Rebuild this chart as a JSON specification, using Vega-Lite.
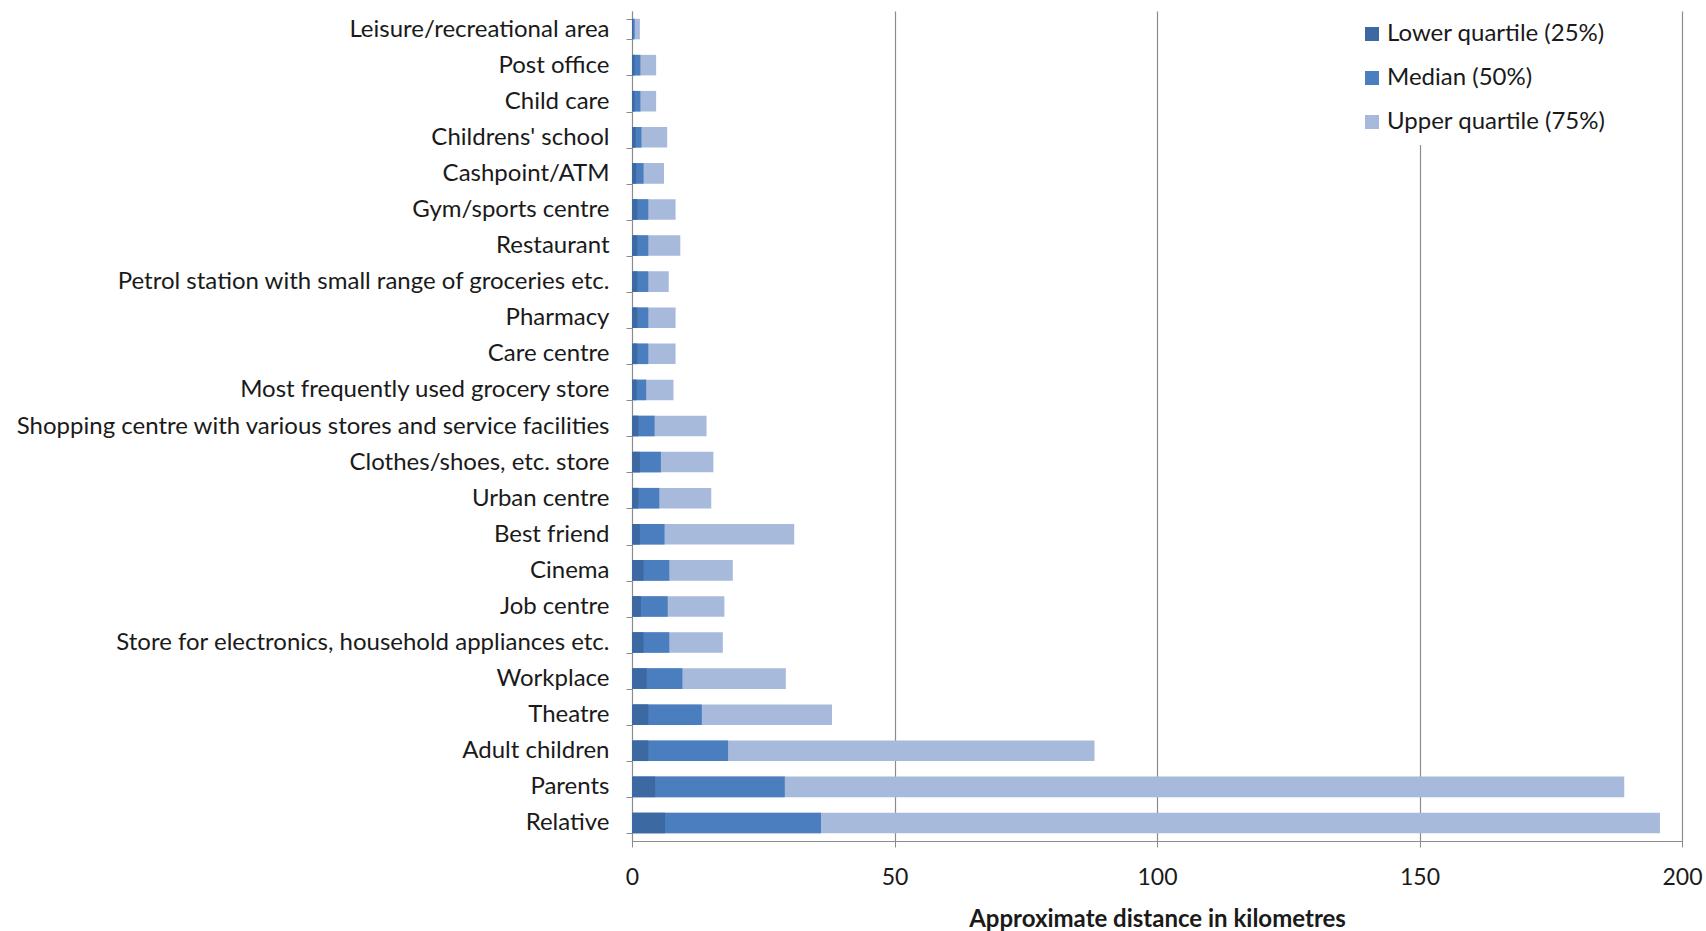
{
  "$schema": "https://vega.github.io/schema/vega-lite/v6.json",
  "autosize": "none",
  "width": 1050,
  "height": 830,
  "padding": {"left": 632, "top": 11, "right": 24, "bottom": 90},
  "background": "white",
  "config": {
    "font": "Lato",
    "view": {"stroke": null}
  },
  "data": {
    "values": [
      {"place": "Leisure/recreational area", "quartile": "Upper quartile (75%)", "km": 1.5},
      {"place": "Post office", "quartile": "Upper quartile (75%)", "km": 4.6},
      {"place": "Child care", "quartile": "Upper quartile (75%)", "km": 4.6},
      {"place": "Childrens' school", "quartile": "Upper quartile (75%)", "km": 6.7},
      {"place": "Cashpoint/ATM", "quartile": "Upper quartile (75%)", "km": 6.1},
      {"place": "Gym/sports centre", "quartile": "Upper quartile (75%)", "km": 8.3},
      {"place": "Restaurant", "quartile": "Upper quartile (75%)", "km": 9.2},
      {"place": "Petrol station with small range of groceries etc.", "quartile": "Upper quartile (75%)", "km": 7.0},
      {"place": "Pharmacy", "quartile": "Upper quartile (75%)", "km": 8.3},
      {"place": "Care centre", "quartile": "Upper quartile (75%)", "km": 8.3},
      {"place": "Most frequently used grocery store", "quartile": "Upper quartile (75%)", "km": 7.9},
      {"place": "Shopping centre with various stores and service facilities", "quartile": "Upper quartile (75%)", "km": 14.2},
      {"place": "Clothes/shoes, etc. store", "quartile": "Upper quartile (75%)", "km": 15.5},
      {"place": "Urban centre", "quartile": "Upper quartile (75%)", "km": 15.1},
      {"place": "Best friend", "quartile": "Upper quartile (75%)", "km": 30.9},
      {"place": "Cinema", "quartile": "Upper quartile (75%)", "km": 19.2},
      {"place": "Job centre", "quartile": "Upper quartile (75%)", "km": 17.6},
      {"place": "Store for electronics, household  appliances etc.", "quartile": "Upper quartile (75%)", "km": 17.3},
      {"place": "Workplace", "quartile": "Upper quartile (75%)", "km": 29.3},
      {"place": "Theatre", "quartile": "Upper quartile (75%)", "km": 38.1},
      {"place": "Adult children", "quartile": "Upper quartile (75%)", "km": 88.1},
      {"place": "Parents", "quartile": "Upper quartile (75%)", "km": 189.0},
      {"place": "Relative", "quartile": "Upper quartile (75%)", "km": 195.8},

      {"place": "Leisure/recreational area", "quartile": "Median (50%)", "km": 0.5},
      {"place": "Post office", "quartile": "Median (50%)", "km": 1.6},
      {"place": "Child care", "quartile": "Median (50%)", "km": 1.6},
      {"place": "Childrens' school", "quartile": "Median (50%)", "km": 1.8},
      {"place": "Cashpoint/ATM", "quartile": "Median (50%)", "km": 2.2},
      {"place": "Gym/sports centre", "quartile": "Median (50%)", "km": 3.1},
      {"place": "Restaurant", "quartile": "Median (50%)", "km": 3.1},
      {"place": "Petrol station with small range of groceries etc.", "quartile": "Median (50%)", "km": 3.1},
      {"place": "Pharmacy", "quartile": "Median (50%)", "km": 3.1},
      {"place": "Care centre", "quartile": "Median (50%)", "km": 3.1},
      {"place": "Most frequently used grocery store", "quartile": "Median (50%)", "km": 2.7},
      {"place": "Shopping centre with various stores and service facilities", "quartile": "Median (50%)", "km": 4.3},
      {"place": "Clothes/shoes, etc. store", "quartile": "Median (50%)", "km": 5.5},
      {"place": "Urban centre", "quartile": "Median (50%)", "km": 5.2},
      {"place": "Best friend", "quartile": "Median (50%)", "km": 6.2},
      {"place": "Cinema", "quartile": "Median (50%)", "km": 7.1},
      {"place": "Job centre", "quartile": "Median (50%)", "km": 6.8},
      {"place": "Store for electronics, household  appliances etc.", "quartile": "Median (50%)", "km": 7.1},
      {"place": "Workplace", "quartile": "Median (50%)", "km": 9.6},
      {"place": "Theatre", "quartile": "Median (50%)", "km": 13.3},
      {"place": "Adult children", "quartile": "Median (50%)", "km": 18.3},
      {"place": "Parents", "quartile": "Median (50%)", "km": 29.1},
      {"place": "Relative", "quartile": "Median (50%)", "km": 36.0},

      {"place": "Leisure/recreational area", "quartile": "Lower quartile (25%)", "km": 0.2},
      {"place": "Post office", "quartile": "Lower quartile (25%)", "km": 0.5},
      {"place": "Child care", "quartile": "Lower quartile (25%)", "km": 0.5},
      {"place": "Childrens' school", "quartile": "Lower quartile (25%)", "km": 0.7},
      {"place": "Cashpoint/ATM", "quartile": "Lower quartile (25%)", "km": 0.8},
      {"place": "Gym/sports centre", "quartile": "Lower quartile (25%)", "km": 1.0},
      {"place": "Restaurant", "quartile": "Lower quartile (25%)", "km": 1.0},
      {"place": "Petrol station with small range of groceries etc.", "quartile": "Lower quartile (25%)", "km": 1.0},
      {"place": "Pharmacy", "quartile": "Lower quartile (25%)", "km": 1.0},
      {"place": "Care centre", "quartile": "Lower quartile (25%)", "km": 1.0},
      {"place": "Most frequently used grocery store", "quartile": "Lower quartile (25%)", "km": 0.9},
      {"place": "Shopping centre with various stores and service facilities", "quartile": "Lower quartile (25%)", "km": 1.2},
      {"place": "Clothes/shoes, etc. store", "quartile": "Lower quartile (25%)", "km": 1.5},
      {"place": "Urban centre", "quartile": "Lower quartile (25%)", "km": 1.2},
      {"place": "Best friend", "quartile": "Lower quartile (25%)", "km": 1.5},
      {"place": "Cinema", "quartile": "Lower quartile (25%)", "km": 2.2},
      {"place": "Job centre", "quartile": "Lower quartile (25%)", "km": 1.7},
      {"place": "Store for electronics, household  appliances etc.", "quartile": "Lower quartile (25%)", "km": 2.2},
      {"place": "Workplace", "quartile": "Lower quartile (25%)", "km": 2.8},
      {"place": "Theatre", "quartile": "Lower quartile (25%)", "km": 3.1},
      {"place": "Adult children", "quartile": "Lower quartile (25%)", "km": 3.1},
      {"place": "Parents", "quartile": "Lower quartile (25%)", "km": 4.4},
      {"place": "Relative", "quartile": "Lower quartile (25%)", "km": 6.3}
    ]
  },
  "mark": {"type": "bar", "cornerRadius": 0},
  "encoding": {
    "y": {
      "field": "place",
      "type": "nominal",
      "sort": null,
      "scale": {"paddingInner": 0.43, "paddingOuter": 0.215},
      "axis": {
        "title": null,
        "tickBand": "extent",
        "domainColor": "#8c8c8c",
        "tickColor": "#8c8c8c",
        "tickSize": 6,
        "labelPadding": 17,
        "labelFontSize": 24,
        "labelColor": "#1a1a1a",
        "labelLimit": 700,
        "grid": false
      }
    },
    "x": {
      "field": "km",
      "type": "quantitative",
      "stack": null,
      "scale": {"domain": [0, 200], "nice": false},
      "axis": {
        "title": "Approximate distance in kilometres",
        "titleFontSize": 24,
        "titleFontWeight": "bold",
        "titleColor": "#1a1a1a",
        "titlePadding": 18,
        "values": [0, 50, 100, 150, 200],
        "labelFlush": false,
        "labelOverlap": false,
        "domainColor": "#8c8c8c",
        "tickColor": "#8c8c8c",
        "tickSize": 6,
        "labelPadding": 19,
        "labelFontSize": 23,
        "labelColor": "#1a1a1a",
        "grid": true,
        "gridColor": "#8c8c8c",
        "gridWidth": 1.2
      }
    },
    "color": {
      "field": "quartile",
      "type": "nominal",
      "scale": {
        "domain": ["Lower quartile (25%)", "Median (50%)", "Upper quartile (75%)"],
        "range": ["#3d69a3", "#4a7ebf", "#a7badc"]
      },
      "legend": {
        "title": null,
        "orient": "none",
        "legendX": 717,
        "legendY": 0,
        "symbolType": "square",
        "symbolSize": 196,
        "symbolStrokeWidth": 0,
        "labelFontSize": 24,
        "labelColor": "#1a1a1a",
        "labelOffset": 3,
        "labelLimit": 400,
        "rowPadding": 20,
        "padding": 11,
        "fillColor": "white"
      }
    }
  }
}
